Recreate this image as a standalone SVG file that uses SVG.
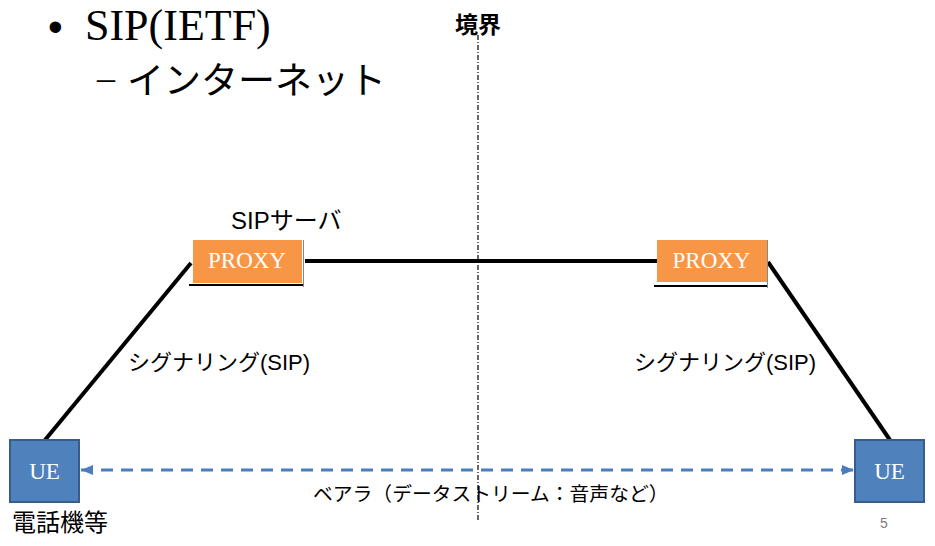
<svg xmlns="http://www.w3.org/2000/svg" width="935" height="546" viewBox="0 0 935 546">
<style>
.sans{font-family:"Liberation Sans","Noto Sans CJK JP",sans-serif;fill:#000}
.serif{font-family:"Liberation Serif","Noto Sans CJK JP",serif}
.proxy rect.fill{fill:#f79646}
.lbl{font-family:"Liberation Serif",serif;fill:#fff;font-size:23px;text-anchor:middle}
.ue rect{fill:#4f81bd;stroke:#385d8a;stroke-width:2}
.sig{stroke:#000;stroke-width:4;fill:none}
</style>
<defs>
<marker id="ah" viewBox="0 0 12 10" refX="12" refY="5" markerWidth="12" markerHeight="10" markerUnits="userSpaceOnUse" orient="auto-start-reverse">
<path d="M0,0 L12,5 L0,10 Z" fill="#4a7ebb"/>
</marker>
</defs>
<g id="title">
<text class="sans" x="48" y="41" font-size="42">•</text>
<text class="serif" x="85" y="40" font-size="44">SIP(IETF)</text>
<text class="serif" x="97" y="90" font-size="36">–</text>
<text class="sans" x="127" y="94" font-size="37">インターネット</text>
</g>
<g id="boundary">
<line x1="478" y1="35" x2="478" y2="520" stroke="#000" stroke-width="1.2" stroke-dasharray="5 2 1 2"/>
<text class="sans" x="455" y="33" font-size="23" font-weight="bold">境界</text>
</g>
<g id="connectors">
<line class="sig" x1="45" y1="440" x2="191" y2="263"/>
<line class="sig" x1="305" y1="261" x2="657" y2="261"/>
<line class="sig" x1="768" y1="262" x2="890" y2="440"/>
<line x1="81" y1="470" x2="854" y2="470" stroke="#4a7ebb" stroke-width="3" stroke-dasharray="12 8" marker-start="url(#ah)" marker-end="url(#ah)"/>
</g>
<g id="proxy-left" class="proxy">
<line x1="189" y1="285" x2="304" y2="285" stroke="#000" stroke-width="2"/>
<line x1="303.5" y1="240" x2="303.5" y2="287" stroke="#888" stroke-width="1"/>
<rect class="fill" x="193" y="240" width="109" height="43"/>
<text class="lbl" x="247" y="268">PROXY</text>
</g>
<g id="proxy-right" class="proxy">
<line x1="654" y1="286" x2="768" y2="286" stroke="#000" stroke-width="2"/>
<line x1="767.5" y1="240" x2="767.5" y2="288" stroke="#888" stroke-width="1"/>
<rect class="fill" x="657" y="240" width="110" height="42"/>
<text class="lbl" x="711.5" y="268">PROXY</text>
</g>
<g id="ue-left" class="ue">
<rect x="10" y="440" width="69" height="62"/>
<text class="lbl" x="44.5" y="479">UE</text>
</g>
<g id="ue-right" class="ue">
<rect x="855" y="440" width="69" height="62"/>
<text class="lbl" x="889.5" y="479">UE</text>
</g>
<g id="labels">
<text class="sans" x="231" y="229" font-size="24">SIPサーバ</text>
<text class="sans" x="128" y="370" font-size="22">シグナリング(SIP)</text>
<text class="sans" x="634" y="370" font-size="22">シグナリング(SIP)</text>
<text class="sans" x="313" y="501" font-size="19.8">ベアラ（データストリーム：音声など）</text>
<text class="sans" x="12" y="531" font-size="24">電話機等</text>
<text x="880" y="528" font-size="14" font-family="Liberation Sans,sans-serif" fill="#7f7f7f">5</text>
</g>
</svg>
